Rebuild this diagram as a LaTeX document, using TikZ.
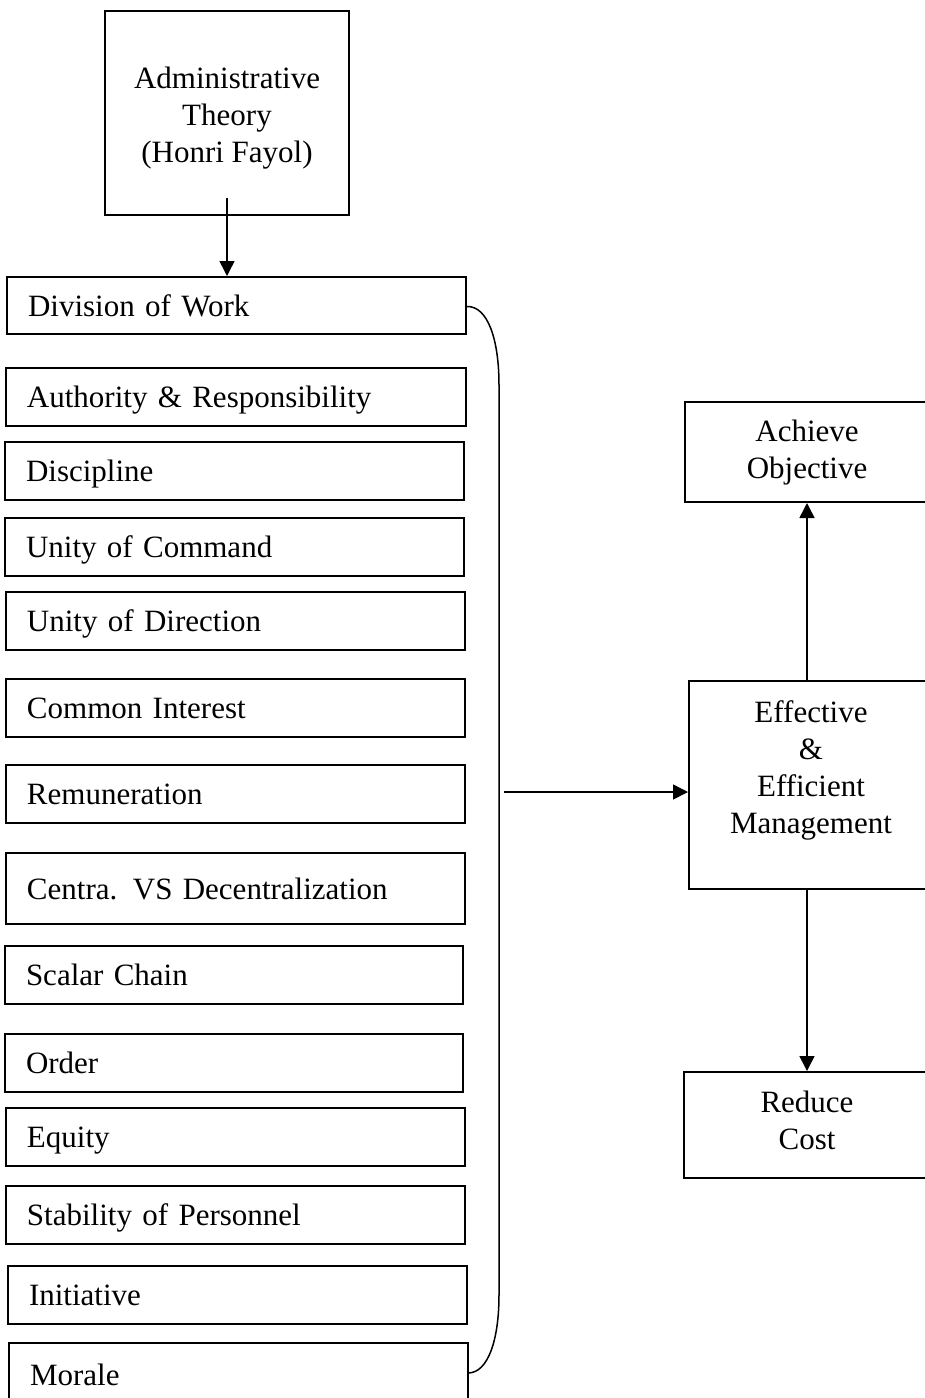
\documentclass[tikz,border=0pt]{standalone}
\usepackage{fontspec}
\setmainfont{Liberation Serif}
\usetikzlibrary{arrows.meta}
\begin{document}
\begin{tikzpicture}[x=1pt,y=-1pt,
  txt/.style={font=\fontsize{31}{37}\selectfont},
  lbox/.style={draw, line width=2pt, txt, inner xsep=21pt, inner ysep=0pt,
    text height=21pt, text depth=0pt, align=left},
  cbox/.style={draw, line width=2pt, inner sep=0pt},
  ctext/.style={txt, align=center, inner sep=0pt},
  arr/.style={line width=1.5pt, -{Triangle[length=15pt,width=15pt]}},
  brace/.style={line width=1.5pt}
]
\useasboundingbox (0,0) rectangle (925,1398);
\clip (0,0) rectangle (925,1398);
% left column: \lbx{name}{x1}{x2}{y1}{y2}{text}
\newcommand\lbx[6]{%
  \pgfmathsetmacro\myBW{#3-#2}\pgfmathsetmacro\myTW{#3-#2-42}%
  \pgfmathsetmacro\myBH{#5-#4}%
  \node[lbox, minimum width=\myBW pt, minimum height=\myBH pt, text width=\myTW pt]
    (#1) at ({(#2+#3)/2},{(#4+#5)/2}) {#6};}
\lbx{div}{7}{466}{277}{334}{Division of Work}
\lbx{auth}{6}{466}{368}{426}{Authority \& Responsibility}
\lbx{disc}{5}{464}{442}{500}{Discipline}
\lbx{uoc}{5}{464}{518}{576}{Unity of Command}
\lbx{uod}{6}{465}{592}{650}{Unity of Direction}
\lbx{ci}{6}{465}{679}{737}{Common Interest}
\lbx{rem}{6}{465}{765}{823}{Remuneration}
\lbx{cen}{6}{465}{853}{924}{Centra. VS Decentralization}
\lbx{sc}{5}{463}{946}{1004}{Scalar Chain}
\lbx{ord}{5}{463}{1034}{1092}{Order}
\lbx{eq}{6}{465}{1108}{1166}{Equity}
\lbx{stab}{6}{465}{1186}{1244}{Stability of Personnel}
\lbx{init}{8}{467}{1266}{1324}{Initiative}
\lbx{mor}{9}{468}{1343}{1406}{Morale}

% top box
\node[cbox, minimum width=244pt, minimum height=204pt] (adm) at (227,113) {};
\node[ctext] (admt) at (227,118) {Administrative\\Theory\\(Honri Fayol)};
\coordinate (admarr) at (227,198);
\draw[arr] (admarr) -- (div.north -| admarr);

% right boxes
\node[cbox, minimum width=245pt, minimum height=100pt] (ach) at (807.5,452) {};
\node[ctext] (acht) at (807,453) {Achieve\\Objective};
\node[cbox, minimum width=246pt, minimum height=208pt] (eff) at (812,785) {};
\node[ctext] (efft) at (811,770) {Effective\\\&\\Efficient\\Management};
\node[cbox, minimum width=246pt, minimum height=106pt] (red) at (807,1125) {};
\node[ctext] (redt) at (807,1120) {Reduce\\Cost};

% brace
\coordinate (bt) at (499,385);
\coordinate (bb) at (499,1295);
\coordinate (be) at (468,1373);
\draw[brace] ([yshift=-1pt]div.east) .. controls (488,306) and (499,340) .. (bt)
  -- (bb) .. controls (499,1340) and (488,1373) .. (be);

% arrows
\coordinate (hs) at (504,792);
\draw[arr] (hs) -- (eff.west |- hs);
\coordinate (ux) at (807,681);
\draw[arr] (eff.north -| ux) -- (ach.south -| ux);
\draw[arr] (eff.south -| ux) -- (red.north -| ux);
\end{tikzpicture}
\end{document}
